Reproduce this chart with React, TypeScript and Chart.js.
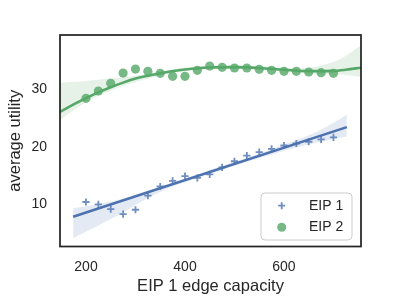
import React, { useEffect, useRef } from "react";
import { Chart, registerables } from "chart.js";

Chart.register(...registerables);

// ---------- data ----------
const capacity = [200, 225, 250, 275, 300, 325, 350, 375, 400, 425, 450, 475, 500, 525, 550, 575, 600, 625, 650, 675, 700];
const eip1 = [10.4, 10.0, 9.15, 8.3, 9.05, 11.5, 13.1, 14.1, 14.9, 14.6, 15.2, 16.45, 17.5, 18.5, 19.1, 19.65, 20.25, 20.6, 20.9, 21.3, 21.65];
const eip2 = [28.47, 29.74, 31.08, 32.87, 33.57, 33.17, 32.82, 32.3, 32.3, 33.34, 34.09, 33.87, 33.75, 33.75, 33.52, 33.34, 33.17, 33.17, 33.05, 32.93, 32.82];

// regression line and confidence band for EIP 1
const fitX1 = [174, 727];
const fit1 = [7.85, 23.45];
const bandX1 = [174, 225, 275, 325, 375, 425, 475, 525, 575, 625, 675, 727];
const upper1 = [9.3, 10.0, 11.0, 12.4, 13.8, 15.2, 16.7, 18.1, 19.6, 21.2, 23.0, 25.6];
const lower1 = [4.1, 6.3, 8.6, 11.1, 13.1, 14.6, 16.0, 17.4, 18.7, 19.9, 20.9, 21.8];

// polynomial fit and confidence band for EIP 2
const fitX2 = [147.5, 175, 200, 225, 250, 275, 300, 325, 350, 400, 450, 500, 550, 600, 650, 700, 725, 755.6];
const fit2 = [26.1, 27.4, 28.5, 29.5, 30.4, 31.2, 31.9, 32.4, 32.85, 33.5, 33.85, 33.9, 33.75, 33.45, 33.2, 33.25, 33.45, 33.8];
const bandX2 = [147.5, 175, 200, 225, 250, 275, 300, 350, 400, 450, 500, 550, 600, 650, 700, 725, 755.6];
const upper2 = [31.2, 31.35, 31.5, 31.7, 31.9, 32.1, 32.4, 33.15, 33.8, 34.15, 34.2, 34.05, 33.8, 33.8, 34.8, 35.9, 37.7];
const lower2 = [24.7, 26.4, 27.8, 28.9, 29.8, 30.6, 31.3, 32.45, 33.2, 33.55, 33.6, 33.45, 33.1, 32.7, 32.6, 32.5, 32.2];

const xTicks = [200, 400, 600];
const yTicks = [10, 20, 30];
const seriesNames = ["EIP 1", "EIP 2"];
const xTitle = "EIP 1 edge capacity";
const yTitle = "average utility";

// ---------- styles ----------
const FONT = "'Liberation Sans', Arial, Helvetica, sans-serif";
const TEXT = "#262626";
const BLUE = "#4c72b0";
const GREEN = "#55a868";
const BLUE_A = "rgba(76,114,176,0.8)";
const GREEN_A = "rgba(85,168,104,0.8)";
const BLUE_BAND = "rgba(76,114,176,0.15)";
const GREEN_BAND = "rgba(85,168,104,0.15)";

const pts = (xs: number[], ys: number[]) => xs.map((x, i) => ({ x, y: ys[i] }));

const framePlugin = {
  id: "frame",
  afterDatasetsDraw(chart: any) {
    const { ctx, chartArea: a } = chart;
    ctx.save();
    ctx.strokeStyle = TEXT;
    ctx.lineWidth = 1.75;
    ctx.strokeRect(a.left, a.top, a.right - a.left, a.bottom - a.top);
    ctx.restore();
  },
};

const legendPlugin = {
  id: "customLegend",
  afterDraw(chart: any) {
    const { ctx } = chart;
    ctx.save();
    const x = 261, y = 193, w = 91, h = 47, r = 4;
    ctx.beginPath();
    ctx.moveTo(x + r, y);
    ctx.arcTo(x + w, y, x + w, y + h, r);
    ctx.arcTo(x + w, y + h, x, y + h, r);
    ctx.arcTo(x, y + h, x, y, r);
    ctx.arcTo(x, y, x + w, y, r);
    ctx.closePath();
    ctx.fillStyle = "rgba(255,255,255,0.8)";
    ctx.fill();
    ctx.strokeStyle = "#cccccc";
    ctx.lineWidth = 1;
    ctx.stroke();

    // EIP 1 marker (+)
    const mx = 281.7;
    const y1 = 205.7, y2 = 227.3;
    ctx.strokeStyle = BLUE_A;
    ctx.lineWidth = 1.8;
    ctx.beginPath();
    ctx.moveTo(mx - 3.5, y1);
    ctx.lineTo(mx + 3.5, y1);
    ctx.moveTo(mx, y1 - 3.5);
    ctx.lineTo(mx, y1 + 3.5);
    ctx.stroke();
    // EIP 2 marker (circle)
    ctx.fillStyle = GREEN_A;
    ctx.beginPath();
    ctx.arc(mx, y2, 4.5, 0, Math.PI * 2);
    ctx.fill();

    ctx.fillStyle = TEXT;
    ctx.font = `14px ${FONT}`;
    ctx.textBaseline = "middle";
    ctx.textAlign = "left";
    ctx.fillText(seriesNames[0], 309, y1);
    ctx.fillText(seriesNames[1], 309, y2);
    ctx.restore();
  },
};

export default function App() {
  const ref = useRef<HTMLCanvasElement>(null);

  useEffect(() => {
    const chart = new Chart(ref.current as HTMLCanvasElement, {
      type: "line",
      data: {
        datasets: [
          {
            label: "band1-lower",
            data: pts(bandX1, lower1),
            borderWidth: 0,
            pointRadius: 0,
            fill: false,
            tension: 0.3,
            order: 3,
          },
          {
            label: "band1-upper",
            data: pts(bandX1, upper1),
            borderWidth: 0,
            pointRadius: 0,
            fill: "-1",
            backgroundColor: BLUE_BAND,
            tension: 0.3,
            order: 3,
          },
          {
            label: "band2-lower",
            data: pts(bandX2, lower2),
            borderWidth: 0,
            pointRadius: 0,
            fill: false,
            tension: 0.3,
            order: 3,
          },
          {
            label: "band2-upper",
            data: pts(bandX2, upper2),
            borderWidth: 0,
            pointRadius: 0,
            fill: "-1",
            backgroundColor: GREEN_BAND,
            tension: 0.3,
            order: 3,
          },
          {
            label: seriesNames[0],
            data: pts(capacity, eip1),
            showLine: false,
            pointStyle: "cross",
            pointRadius: 3.6,
            pointBorderWidth: 1.8,
            pointBorderColor: BLUE_A,
            pointBackgroundColor: BLUE_A,
            order: 2,
          },
          {
            label: seriesNames[1],
            data: pts(capacity, eip2),
            showLine: false,
            pointStyle: "circle",
            pointRadius: 4.6,
            pointBorderWidth: 0,
            pointBackgroundColor: GREEN_A,
            pointBorderColor: "rgba(0,0,0,0)",
            order: 2,
          },
          {
            label: "fit1",
            data: pts(fitX1, fit1),
            borderColor: BLUE,
            borderWidth: 2.6,
            pointRadius: 0,
            fill: false,
            order: 1,
          },
          {
            label: "fit2",
            data: pts(fitX2, fit2),
            borderColor: GREEN,
            borderWidth: 2.6,
            pointRadius: 0,
            fill: false,
            cubicInterpolationMode: "monotone",
            order: 1,
          },
        ],
      },
      options: {
        responsive: false,
        animation: false,
        events: [],
        layout: { padding: { top: 35, right: 39, left: 0, bottom: 0 } },
        plugins: {
          legend: { display: false },
          tooltip: { enabled: false },
        },
        scales: {
          x: {
            type: "linear",
            min: 147.5,
            max: 755.6,
            grid: { display: false, drawTicks: false },
            border: { display: false },
            afterBuildTicks: (s: any) => {
              s.ticks = xTicks.map((v) => ({ value: v }));
            },
            afterFit: (s: any) => {
              s.height = 51.5;
            },
            ticks: {
              padding: 12,
              color: TEXT,
              font: { family: FONT, size: 14 },
              maxRotation: 0,
              callback: (v: any) => String(v),
            },
            title: {
              display: true,
              text: xTitle,
              color: TEXT,
              font: { family: FONT, size: 16.5 },
              padding: { top: 0, bottom: 2 },
            },
          },
          y: {
            type: "linear",
            min: 2.65,
            max: 39.5,
            grid: { display: false, drawTicks: false },
            border: { display: false },
            afterBuildTicks: (s: any) => {
              s.ticks = yTicks.map((v) => ({ value: v }));
            },
            afterFit: (s: any) => {
              s.width = 60;
            },
            ticks: {
              padding: 13,
              color: TEXT,
              font: { family: FONT, size: 14 },
              callback: (v: any) => String(v),
            },
            title: {
              display: true,
              text: yTitle,
              color: TEXT,
              font: { family: FONT, size: 16.5 },
              padding: { top: 6, bottom: 0 },
            },
          },
        },
      } as any,
      plugins: [framePlugin, legendPlugin],
    });
    return () => chart.destroy();
  }, []);

  return (
    <div style={{ position: "absolute", left: 0, top: 0, width: 400, height: 298, background: "#ffffff" }}>
      <canvas ref={ref} width={400} height={298} style={{ display: "block", width: 400, height: 298 }} />
    </div>
  );
}
